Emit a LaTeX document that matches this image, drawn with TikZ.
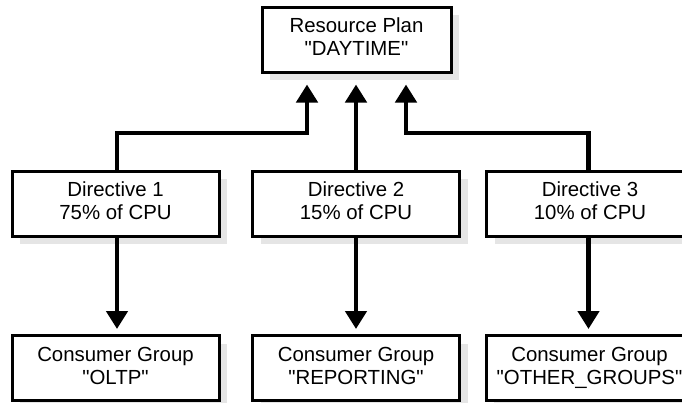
\documentclass[tikz,border=0pt]{standalone}
\usepackage{fontspec}
\setmainfont{Liberation Sans}[Ligatures=TeXOff]
\usetikzlibrary{arrows.meta,shadows}
\begin{document}
\begin{tikzpicture}[x=1pt,y=1pt,
  box/.style={draw, line width=3pt, fill=white, align=center,
    minimum height=65pt, inner sep=0pt,
    font=\fontsize{20.4}{23}\selectfont,
    drop shadow={shadow xshift=8pt, shadow yshift=-8pt, fill=black!10, opacity=1}},
  wbox/.style={box, minimum width=207pt},
  arr/.style={line width=4.5pt, -{Triangle[width=21pt,length=18pt]}}
]
\useasboundingbox (0,0) rectangle (682,-402);
\clip (0,0) rectangle (682,-402);
\node[box, minimum width=189pt] (top) at (356.5,-39.5) {\strut Resource Plan\\\strut "DAYTIME"};
\node[wbox] (d1) at (115.5,-203.5) {\strut Directive 1\\\strut 75\% of CPU};
\node[wbox] (d2) at (356,-203.5) {\strut Directive 2\\\strut 15\% of CPU};
\node[wbox] (d3) at (590,-203.5) {\strut Directive 3\\\strut 10\% of CPU};
\node[wbox] (c1) at (115.5,-368) {\strut Consumer Group\\\strut "OLTP"};
\node[wbox] (c2) at (356,-368) {\strut Consumer Group\\\strut "REPORTING"};
\node[wbox] (c3) at (589.5,-368) {\strut Consumer Group\\\strut "OTHER\_GROUPS"};
\coordinate (j1) at (307,-133);
\coordinate (j3) at (406,-133);
\draw[arr, shorten >=11pt] ([xshift=1.5pt]d1.north) |- (j1) -- (j1 |- top.south);
\draw[arr, shorten >=11pt] (d2.north) -- (d2.north |- top.south);
\draw[arr, shorten >=11pt] ([xshift=-1.5pt]d3.north) |- (j3) -- (j3 |- top.south);
\draw[arr, shorten >=5pt] ([xshift=1.5pt]d1.south) -- ([xshift=1.5pt]c1.north);
\draw[arr, shorten >=5pt] (d2.south) -- (c2.north);
\draw[arr, shorten >=5pt] ([xshift=-1.5pt]d3.south) -- ([xshift=-1pt]c3.north);
\end{tikzpicture}
\end{document}
